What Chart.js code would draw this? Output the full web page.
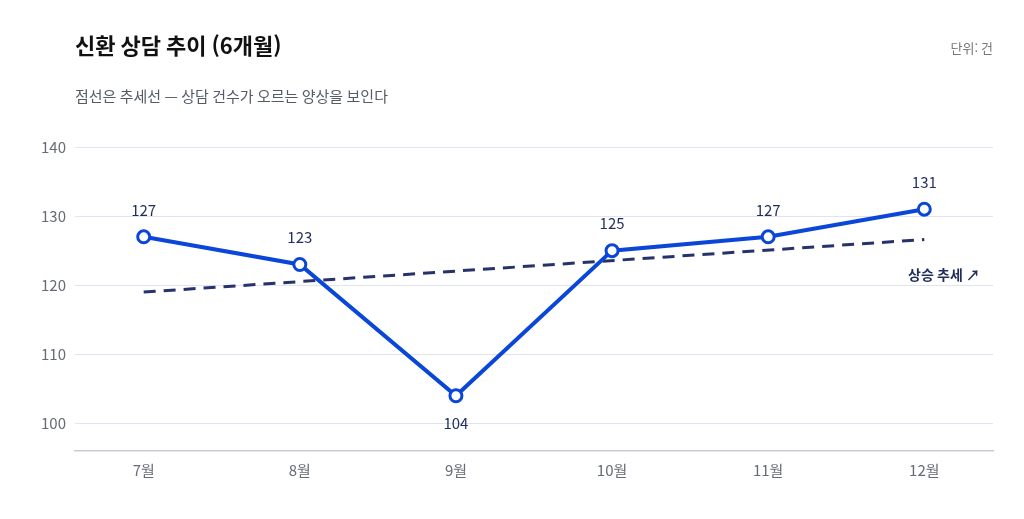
<!DOCTYPE html>
<html lang="ko">
<head>
<meta charset="UTF-8">
<title>신환 상담 추이</title>
<style>
    body { margin: 0; background: #fff; }
    #wrap { width: 1024px; height: 519px; position: relative; }
</style>
</head>
<body>
<div id="wrap"><canvas id="chart" width="1024" height="519"></canvas></div>
<script src="https://cdn.jsdelivr.net/npm/chart.js"></script>
<script>
    const months = ['7월', '8월', '9월', '10월', '11월', '12월'];
    const counts = [127, 123, 104, 125, 127, 131];
    const trendEnds = [119.0, 126.6]; // at 7월 and 12월
    const yTicks = [100, 110, 120, 130, 140];

    const FONT = '"Noto Sans CJK KR", "Noto Sans", sans-serif';

    const pointData = counts.map((v, i) => ({ x: i, y: v }));
    const trendData = [{ x: 0, y: trendEnds[0] }, { x: months.length - 1, y: trendEnds[1] }];

    // titles, value labels and the trend note
    const textPlugin = {
        id: 'texts',
        afterDatasetsDraw(chart) {
            const ctx = chart.ctx;
            const xs = chart.scales.x, ys = chart.scales.y;
            ctx.save();
            ctx.textBaseline = 'middle';
            ctx.fillStyle = '#111';
            ctx.font = 'bold 22px ' + FONT;
            ctx.textAlign = 'left';
            ctx.fillText('신환 상담 추이 (6개월)', 75, 46);
            ctx.fillStyle = '#555b66';
            ctx.font = '15px ' + FONT;
            ctx.fillText('점선은 추세선 — 상담 건수가 오르는 양상을 보인다', 75, 96);
            ctx.font = '13px ' + FONT;
            ctx.fillStyle = '#777';
            ctx.textAlign = 'right';
            ctx.fillText('단위: 건', 993, 48);

            ctx.font = '15px ' + FONT;
            ctx.fillStyle = '#1f2d5c';
            ctx.textAlign = 'center';
            counts.forEach((v, i) => {
                const px = xs.getPixelForValue(i), py = ys.getPixelForValue(v);
                const low = i > 0 && i < counts.length - 1 && v < counts[i - 1] && v < counts[i + 1];
                ctx.fillText(String(v), px, low ? py + 28 : py - 27);
            });

            ctx.font = 'bold 14px ' + FONT;
            ctx.fillStyle = '#1f2d5c';
            ctx.textAlign = 'right';
            ctx.fillText('상승 추세 ↗', 980, 275);
            ctx.restore();
        }
    };

    new Chart(document.getElementById('chart'), {
        type: 'line',
        data: {
            datasets: [
                {
                    data: pointData,
                    borderColor: '#0a47d8',
                    borderWidth: 4,
                    pointRadius: 6,
                    pointBorderWidth: 3,
                    pointBackgroundColor: '#fff',
                    pointBorderColor: '#0a47d8',
                    tension: 0,
                    order: 1
                },
                {
                    data: trendData,
                    borderColor: '#26336b',
                    borderWidth: 3,
                    borderDash: [12, 8],
                    pointRadius: 0,
                    order: 2
                }
            ]
        },
        options: {
            responsive: false,
            animation: false,
            layout: { padding: { top: 147, right: 31, left: 0, bottom: 0 } },
            plugins: { legend: { display: false }, tooltip: { enabled: false } },
            scales: {
                x: {
                    type: 'linear',
                    min: -0.44,
                    max: months.length - 1 + 0.44,
                    afterBuildTicks(axis) { axis.ticks = months.map((m, i) => ({ value: i })); },
                    afterFit(axis) { axis.height = 68; },
                    grid: { display: false, drawTicks: false },
                    border: { color: '#c8c9dc', width: 1.5 },
                    ticks: {
                        callback: v => months[v],
                        color: '#666b77',
                        font: { size: 15, family: FONT },
                        padding: 10
                    }
                },
                y: {
                    min: 96,
                    max: 140,
                    afterBuildTicks(axis) { axis.ticks = yTicks.map(v => ({ value: v })); },
                    afterFit(axis) { axis.width = 75; },
                    grid: { color: '#e2e3f0', lineWidth: 1, drawTicks: false },
                    border: { display: false },
                    ticks: {
                        color: '#666b77',
                        font: { size: 15, family: FONT },
                        padding: 9
                    }
                }
            }
        },
        plugins: [textPlugin]
    });
</script>
</body>
</html>
